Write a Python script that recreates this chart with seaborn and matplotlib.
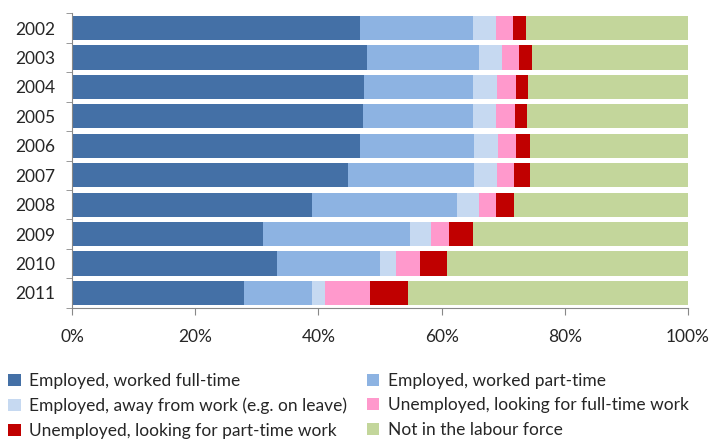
import numpy as np
import pandas as pd
import matplotlib
matplotlib.use("Agg")
import matplotlib.pyplot as plt
from matplotlib.patches import Patch
import seaborn as sns

years=["2002","2003","2004","2005","2006","2007","2008","2009","2010","2011"]
full_time=[46.7,47.9,47.4,47.2,46.7,44.8,39.0,31.0,33.3,28.0]
part_time=[18.4,18.1,17.7,17.9,18.6,20.5,23.5,23.9,16.7,11.0]
away=[3.7,3.8,3.9,3.7,3.9,3.7,3.5,3.3,2.6,2.0]
unemp_ft=[2.8,2.7,3.0,3.1,2.8,2.8,2.8,3.0,3.9,7.4]
unemp_pt=[2.1,2.1,2.1,2.0,2.4,2.6,3.0,3.9,4.4,6.2]
not_lf=[26.3,25.4,25.9,26.1,25.6,25.6,28.2,34.9,39.1,45.4]

labels=["Employed, worked full-time","Employed, worked part-time",
        "Employed, away from work (e.g. on leave)","Unemployed, looking for full-time work",
        "Unemployed, looking for part-time work","Not in the labour force"]
colors=["#4470A6","#8DB3E2","#C6D9F1","#FF99CC","#C00000","#C3D69B"]

sns.set_style("white")
plt.rcParams["font.family"]=["Lato","DejaVu Sans"]

df=pd.DataFrame({"year":years,"a":full_time,"b":part_time,"c":away,"d":unemp_ft,"e":unemp_pt,"f":not_lf})
cols=["a","b","c","d","e","f"]
cum=df[cols].cumsum(axis=1)

fig=plt.figure(figsize=(7.2,4.45),dpi=100)
ax=fig.add_axes([0.1,0.3085,0.8556,0.6615])

# draw from the widest cumulative segment back to the narrowest
for i in range(len(cols)-1,-1,-1):
    sns.barplot(x=cum[cols[i]],y=df["year"],color=colors[i],orient="h",width=0.82,
                saturation=1,ax=ax,edgecolor="none",linewidth=0)

ax.set_xlim(0,100)
ax.set_ylim(9.5,-0.5)
ax.set_xticks(np.arange(0,101,20))
ax.set_xticklabels([f"{v}%" for v in range(0,101,20)],fontsize=12.5)
ax.set_yticks(np.arange(-0.5,10,1),minor=True)
ax.tick_params(axis="y",which="major",length=0,labelsize=12.5,pad=12)
ax.tick_params(axis="y",which="minor",length=4,color="#888888",direction="out",left=True)
ax.tick_params(axis="x",length=5,color="#888888",direction="out",bottom=True,pad=10)
ax.set_xlabel("")
ax.set_ylabel("")
for s in ["top","right"]:
    ax.spines[s].set_visible(False)
for s in ["left","bottom"]:
    ax.spines[s].set_color("#888888")
    ax.spines[s].set_linewidth(0.8)

handles=[Patch(facecolor=c,edgecolor="none") for c in colors]
order=[0,2,4,1,3,5]
fig.legend([handles[i] for i in order],[labels[i] for i in order],ncol=2,loc="lower left",
           bbox_to_anchor=(-0.01,-0.021),frameon=False,fontsize=12.5,handlelength=0.7,handleheight=0.7,
           handletextpad=0.5,columnspacing=1.15,labelspacing=0.5)

fig.savefig("out.png",dpi=100)
